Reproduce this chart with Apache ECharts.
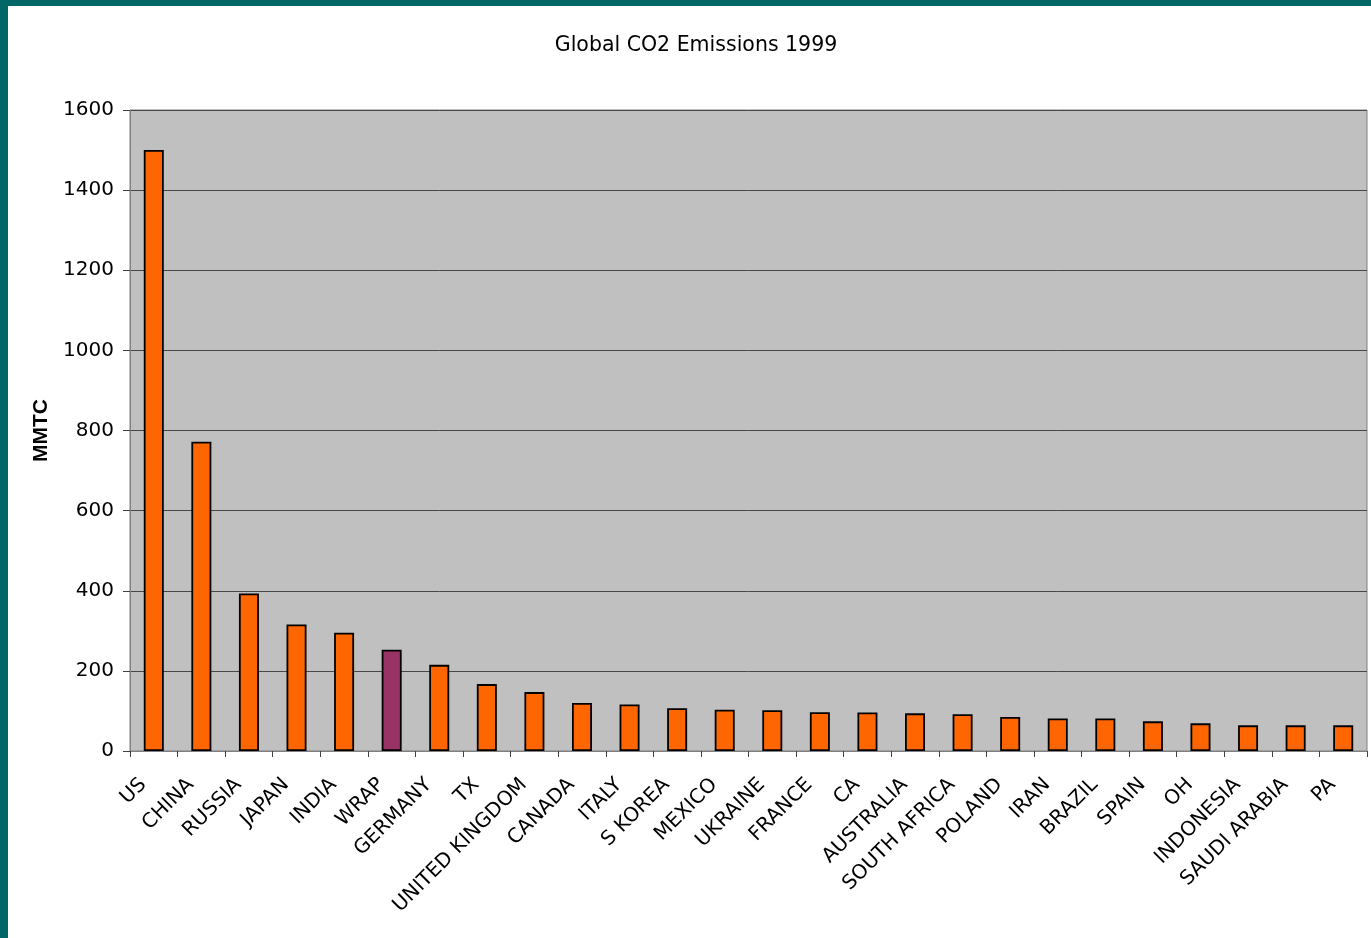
<!DOCTYPE html>
<html>
<head>
<meta charset="utf-8">
<script src="https://cdn.jsdelivr.net/npm/echarts@6/dist/echarts.min.js"></script>
<style>
html,body{margin:0;padding:0;background:#fff;}
#chart{width:1371px;height:938px;}
</style>
</head>
<body>
<div id="chart"></div>
<script>
const categories = ["US","CHINA","RUSSIA","JAPAN","INDIA","WRAP","GERMANY","TX","UNITED KINGDOM","CANADA","ITALY","S KOREA","MEXICO","UKRAINE","FRANCE","CA","AUSTRALIA","SOUTH AFRICA","POLAND","IRAN","BRAZIL","SPAIN","OH","INDONESIA","SAUDI ARABIA","PA"];
const emissions = [1500,772,393,316,295,253,215,167,147,120,116,107,103,102,97,96,94,92,85,81,81,74,69,64,64,64];
const highlighted = ["WRAP"];
const yTicks = [0,200,400,600,800,1000,1200,1400,1600];

const chart = echarts.init(document.getElementById('chart'));
const font = '"DejaVu Sans", Verdana, sans-serif';
chart.setOption({
  animation: false,
  title: {
    text: 'Global CO2 Emissions 1999',
    left: 691, top: 30, textAlign: 'center',
    textStyle: {fontFamily: font, fontSize: 20.5, fontWeight: 'normal', color: '#000'}
  },
  graphic: [
    {type:'rect', shape:{x:0,y:0,width:1371,height:6}, style:{fill:'#006666'}, z:100},
    {type:'rect', shape:{x:0,y:0,width:8,height:938}, style:{fill:'#006666'}, z:100}
  ],
  grid: {
    left: 130, right: 4, top: 110, bottom: 187,
    show: true, backgroundColor: '#C0C0C0', borderColor: '#808080', borderWidth: 1
  },
  xAxis: {
    type: 'category',
    data: categories,
    axisLine: {lineStyle: {color: '#808080', width: 1}},
    axisTick: {show: true, length: 6, lineStyle: {color: '#404040'}},
    axisLabel: {rotate: 45, interval: 0, margin: 20, padding: [0, 15, 0, 0], color: '#000', fontFamily: font, fontSize: 20}
  },
  yAxis: {
    type: 'value',
    min: 0, max: 1600, interval: 200,
    name: 'MMTC', nameLocation: 'middle', nameGap: 75, nameRotate: 90,
    nameTextStyle: {fontFamily: '"Liberation Sans", Arial, sans-serif', fontWeight: 'bold', fontSize: 21, color: '#000'},
    axisLine: {show: true, lineStyle: {color: '#808080', width: 1}},
    axisTick: {show: true, length: 7, lineStyle: {color: '#404040'}},
    axisLabel: {margin: 16, color: '#000', fontFamily: font, fontSize: 20,
      formatter: v => yTicks.includes(v) ? String(v) : ''},
    splitLine: {show: true, lineStyle: {color: '#484848', width: 1}}
  },
  series: [{
    type: 'bar',
    barWidth: 20,
    data: emissions.map((v, i) => ({
      value: v,
      itemStyle: {color: highlighted.includes(categories[i]) ? '#993366' : '#FF6600'}
    })),
    itemStyle: {borderColor: '#000', borderWidth: 1.8}
  }]
});
</script>
</body>
</html>
